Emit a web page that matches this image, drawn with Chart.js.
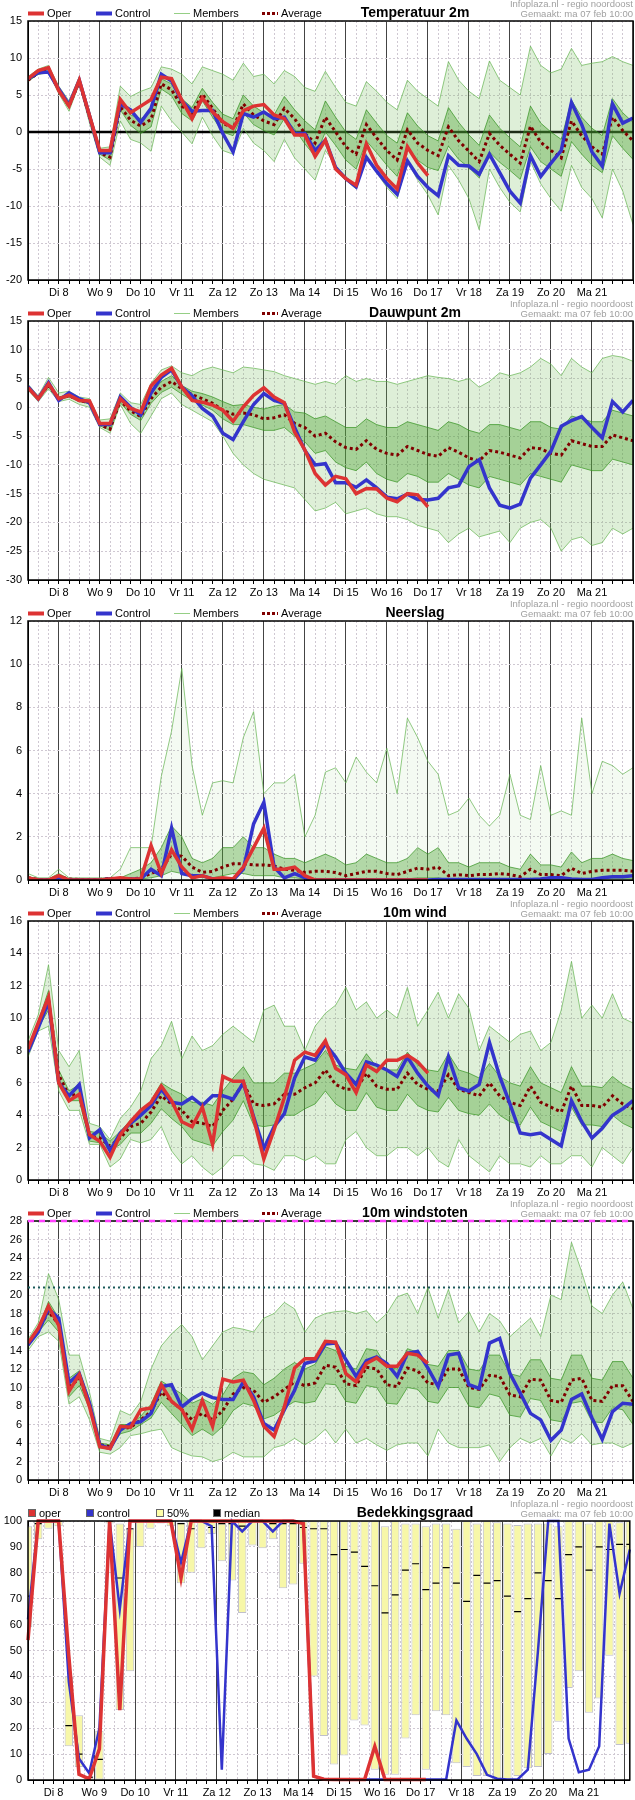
<!DOCTYPE html>
<html>
<head>
<meta charset="utf-8">
<title>Pluim noordoost</title>
<script src="https://cdn.jsdelivr.net/npm/chart.js"></script>
<style>
  body { margin: 0; background: #fff; }
  .panel { position: relative; width: 635px; height: 300px; }
  canvas { display: block; }
</style>
</head>
<body>
<div class="panel"><canvas id="temp" width="635" height="300"></canvas></div>
<div class="panel"><canvas id="dew" width="635" height="300"></canvas></div>
<div class="panel"><canvas id="rain" width="635" height="300"></canvas></div>
<div class="panel"><canvas id="wind" width="635" height="300"></canvas></div>
<div class="panel"><canvas id="gust" width="635" height="300"></canvas></div>
<div class="panel"><canvas id="cloud" width="635" height="300"></canvas></div>
<script>
// 6-hourly steps, index 0 = ma 7 feb 06:00
const days = ['Di 8', 'Wo 9', 'Do 10', 'Vr 11', 'Za 12', 'Zo 13', 'Ma 14', 'Di 15', 'Wo 16', 'Do 17', 'Vr 18', 'Za 19', 'Zo 20', 'Ma 21'];

// Temperatuur 2m
const tempOper = [7.2, 8.3, 8.7, 5.6, 3.5, 7.0, 2.2, -2.5, -2.5, 4.4, 2.6, 3.5, 4.4, 7.4, 7.2, 4.3, 1.8, 4.6, 2.7, 1.4,
  0.5, 2.9, 3.5, 3.7, 2.3, 1.8, -0.4, -0.4, -3.3, -1.1, -5.0, -6.3, -7.2, -1.6, -4.5, -6.3, -7.7, -2.0, -4.2, -5.9];
const tempControl = [7.2, 8.0, 8.1, 5.8, 3.7, 7.0, 2.2, -2.8, -2.8, 3.8, 3.0, 1.3, 3.2, 7.8, 6.9, 4.2, 2.8, 2.9, 2.9, -0.2,
  -2.7, 2.5, 2.0, 2.7, 1.8, 2.0, -0.2, -0.2, -2.5, -1.1, -4.8, -6.3, -7.4, -3.4, -5.3, -7.0, -8.4, -3.9, -6.0, -7.5,
  -8.6, -3.2, -4.5, -4.6, -5.7, -3.0, -5.5, -8.0, -9.6, -3.2, -6.0, -4.2, -2.5, 4.0, 1.0, -2.7, -4.6, 3.8, 1.2, 1.9];
const tempAvg = [7.0, 8.0, 8.3, 5.7, 3.5, 6.8, 2.0, -2.8, -3.4, 3.4, 1.6, 0.8, 1.7, 6.5, 5.7, 3.5, 2.5, 5.1, 3.2, 1.2,
  0.5, 3.8, 2.3, 1.5, 1.0, 3.2, 1.8, -0.2, -1.5, 2.0, 0.0, -2.0, -3.0, 1.0, -0.8, -2.5, -3.8, 0.3, -1.5, -2.5,
  -3.2, 0.7, -1.2, -2.6, -4.0, -0.2, -1.8, -3.0, -4.2, 0.8, -1.4, -2.5, -3.5, 1.5, -0.5, -2.0, -3.0, 2.0, 0.2, -1.2];
const tempHi = [7.5, 8.5, 9.0, 6.2, 4.2, 7.5, 2.8, -2.2, -2.0, 6.2, 4.8, 5.5, 6.0, 8.8, 8.5, 7.8, 6.5, 8.8, 8.3, 7.8,
  7.0, 9.3, 7.5, 7.8, 6.5, 8.3, 7.5, 6.0, 5.5, 8.2, 6.0, 4.0, 3.5, 6.8, 5.5, 4.0, 3.0, 7.0, 5.5, 4.5,
  3.5, 9.5, 7.0, 5.5, 4.5, 9.6, 7.0, 6.0, 5.0, 11.6, 9.0, 8.0, 8.5, 11.3, 9.0, 9.3, 9.5, 10.2, 9.5, 9.0];
const tempQ75 = [7.3, 8.2, 8.5, 5.9, 3.8, 7.1, 2.3, -2.6, -2.9, 4.3, 2.3, 1.8, 2.7, 7.2, 6.5, 4.5, 3.3, 5.9, 4.0, 2.4,
  1.8, 5.0, 3.5, 2.6, 2.3, 4.8, 3.0, 1.5, 0.3, 4.2, 2.0, 0.0, -1.0, 3.0, 1.2, -0.5, -1.5, 2.6, 0.8, -0.5,
  -1.2, 3.3, 1.3, -0.4, -1.8, 2.3, 0.5, -0.8, -2.0, 3.5, 1.2, 0.0, -1.0, 4.3, 2.0, 0.5, -0.5, 4.5, 2.6, 1.3];
const tempQ25 = [6.9, 7.8, 8.1, 5.4, 3.2, 6.5, 1.7, -3.0, -3.8, 3.0, 0.9, -0.2, 0.7, 5.8, 4.9, 2.5, 1.5, 4.2, 2.0, 0.0,
  -0.5, 2.6, 1.0, 0.2, -0.4, 1.8, 0.4, -1.6, -3.3, 0.0, -1.8, -3.8, -5.0, -1.2, -2.8, -4.5, -6.0, -2.0, -3.8, -4.8,
  -5.2, -1.9, -3.7, -4.8, -6.2, -2.7, -4.1, -5.2, -6.4, -2.0, -4.0, -5.0, -6.0, -1.3, -3.0, -4.5, -5.5, -0.5, -2.2, -3.7];
const tempLo = [6.8, 7.8, 8.0, 5.2, 2.8, 6.5, 1.2, -3.4, -4.5, 1.5, -1.0, -1.5, -2.6, 3.5, 1.5, 0.0, -1.6, 2.0, -0.5, -2.5,
  -3.0, 0.5, -1.5, -2.5, -4.0, -1.0, -3.5, -5.0, -6.5, -2.5, -4.5, -6.5, -7.7, -3.5, -5.5, -7.5, -9.0, -4.0, -6.5, -8.5,
  -11.2, -4.5, -6.5, -9.0, -13.2, -5.0, -7.5, -9.5, -10.8, -4.0, -7.0, -9.0, -10.7, -4.5, -7.5, -9.0, -11.6, -5.0, -8.0, -12.5];

// Dauwpunt 2m
const dewOper = [3.4, 1.5, 4.1, 1.5, 2.1, 1.2, 1.1, -2.8, -2.8, 1.5, -0.2, -0.8, 3.7, 5.6, 6.8, 3.5, 1.2, 0.9, 0.4, -0.5,
  -2.4, 0.1, 2.1, 3.4, 1.8, 0.8, -4.3, -7.4, -11.5, -13.5, -12.0, -12.4, -15.0, -14.1, -14.2, -15.8, -16.4, -15.0, -15.2, -17.3];
const dewControl = [3.6, 1.5, 4.3, 1.2, 2.5, 1.5, 0.8, -3.0, -3.0, 1.8, 0.0, -1.3, 2.5, 5.2, 6.5, 3.5, 2.0, -0.2, -1.5, -4.5,
  -5.6, -2.5, 0.5, 2.4, 1.2, 0.7, -3.5, -7.5, -10.0, -9.8, -13.1, -13.1, -13.9, -12.6, -14.0, -15.6, -15.9, -15.1, -16.0, -16.1,
  -15.8, -14.0, -13.6, -10.3, -9.1, -14.0, -17.0, -17.5, -16.8, -12.3, -10.0, -7.6, -3.3, -2.3, -1.6, -3.5, -5.3, 1.0, -0.8, 1.2];
const dewAvg = [3.3, 1.6, 3.8, 1.5, 2.0, 1.2, 0.8, -3.0, -3.8, 1.2, -0.6, -1.6, 1.5, 3.5, 4.5, 3.2, 2.2, 1.5, 0.7, -0.5,
  -1.2, -1.0, -1.3, -2.0, -1.8, -1.3, -2.8, -3.5, -5.0, -4.5, -6.0, -7.0, -7.3, -5.8, -7.3, -8.0, -8.3, -6.8, -7.5, -8.2,
  -8.5, -7.0, -7.8, -8.8, -9.3, -7.5, -7.8, -8.3, -8.8, -7.0, -7.2, -8.0, -8.3, -5.8, -6.3, -6.8, -6.8, -4.8, -5.3, -5.8];
const dewHi = [4.0, 2.0, 5.2, 2.5, 2.8, 1.8, 1.5, -2.2, -2.0, 2.5, 0.8, 0.5, 4.2, 6.5, 7.2, 6.0, 5.5, 6.5, 7.0, 6.5,
  6.0, 7.0, 6.8, 6.5, 6.2, 5.5, 5.0, 4.5, 4.0, 4.5, 4.0, 5.5, 4.5, 5.0, 4.5, 4.5, 4.0, 4.5, 5.0, 5.5,
  5.2, 5.0, 4.5, 5.0, 3.5, 4.5, 6.0, 5.5, 6.0, 7.0, 8.5, 7.5, 5.5, 8.5, 7.0, 6.0, 8.5, 9.0, 8.7, 8.0];
const dewQ75 = [3.5, 1.7, 4.2, 1.8, 2.2, 1.4, 1.0, -2.7, -3.3, 1.7, -0.1, -1.0, 2.3, 4.5, 5.5, 3.8, 2.8, 2.4, 1.8, 1.0,
  0.3, 0.5, 0.0, -0.3, 0.2, 0.5, -0.8, -1.0, -2.0, -1.5, -2.5, -3.5, -3.5, -2.0, -3.0, -3.5, -3.5, -2.5, -3.0, -3.5,
  -4.0, -2.5, -3.0, -4.0, -4.5, -3.0, -3.0, -3.5, -4.0, -2.5, -2.5, -3.5, -3.8, -1.5, -2.0, -2.5, -2.5, -0.5, -1.0, -1.5];
const dewQ25 = [3.1, 1.4, 3.5, 1.3, 1.8, 1.0, 0.6, -3.2, -4.0, 0.8, -1.2, -2.3, 0.7, 2.6, 3.5, 2.3, 1.2, 0.4, -0.5, -2.0,
  -3.0, -3.0, -3.5, -4.0, -4.0, -3.5, -5.0, -6.0, -8.0, -7.5, -9.5, -10.5, -11.0, -9.5, -11.5, -12.5, -13.0, -11.5, -12.0, -13.0,
  -13.0, -11.5, -12.5, -13.5, -14.0, -12.0, -12.5, -13.0, -13.5, -11.5, -12.0, -12.5, -13.0, -10.0, -10.5, -11.0, -11.0, -9.0, -9.5, -10.0];
const dewLo = [3.0, 1.0, 3.2, 1.0, 1.4, 0.5, 0.0, -3.5, -4.5, 0.5, -2.8, -4.5, -1.5, 1.5, 2.5, 0.5, -0.5, -1.5, -2.5, -5.0,
  -8.0, -10.0, -11.5, -12.5, -13.0, -13.5, -14.0, -16.0, -18.0, -17.5, -16.5, -18.5, -18.0, -17.5, -18.5, -19.0, -19.0, -19.5, -20.5, -21.0,
  -21.5, -23.5, -22.0, -21.0, -22.5, -22.0, -21.5, -23.5, -21.0, -20.0, -19.5, -21.0, -25.0, -23.0, -22.5, -24.0, -23.5, -21.0, -22.0, -21.0];

// Neerslag
const rainOper = [0.1, 0.0, 0.0, 0.2, 0.0, 0.0, 0.0, 0.0, 0.05, 0.1, 0.05, 0.05, 1.6, 0.3, 1.4, 0.6, 0.1, 0.2, 0.05, 0.1,
  0.05, 0.6, 1.5, 2.4, 0.5, 0.5, 0.6, 0.2, 0.0, 0.0, 0.0, 0.0, 0.0, 0.0, 0.0, 0.0, 0.0, 0.0, 0.0, 0.0];
const rainControl = [0.05, 0.0, 0.0, 0.1, 0.0, 0.0, 0.0, 0.0, 0.05, 0.05, 0.05, 0.05, 0.5, 0.2, 2.4, 0.3, 0.2, 0.2, 0.05, 0.0,
  0.0, 0.5, 2.6, 3.6, 0.6, 0.1, 0.3, 0.1, 0.0, 0.0, 0.0, 0.0, 0.0, 0.0, 0.0, 0.0, 0.0, 0.0, 0.0, 0.0,
  0.02, 0.02, 0.02, 0.02, 0.02, 0.02, 0.02, 0.02, 0.02, 0.02, 0.05, 0.1, 0.1, 0.05, 0.02, 0.02, 0.1, 0.15, 0.15, 0.2];
const rainAvg = [0.1, 0.02, 0.02, 0.15, 0.05, 0.02, 0.02, 0.02, 0.08, 0.05, 0.05, 0.1, 0.3, 0.5, 1.2, 1.1, 0.6, 0.35, 0.4, 0.6,
  0.75, 0.75, 0.7, 0.7, 0.65, 0.5, 0.45, 0.35, 0.4, 0.4, 0.35, 0.2, 0.3, 0.4, 0.4, 0.3, 0.25, 0.4, 0.55, 0.5,
  0.6, 0.2, 0.25, 0.2, 0.25, 0.25, 0.3, 0.25, 0.15, 0.5, 0.25, 0.25, 0.2, 0.55, 0.3, 0.4, 0.45, 0.45, 0.45, 0.4];
const rainHi = [0.3, 0.1, 0.1, 0.5, 0.1, 0.1, 0.1, 0.1, 0.1, 0.5, 1.5, 1.5, 1.5, 4.8, 6.9, 9.8, 5.3, 3.0, 4.5, 4.6,
  4.5, 6.6, 7.8, 4.0, 4.5, 4.5, 4.9, 2.0, 3.0, 5.0, 5.2, 4.5, 5.7, 5.0, 4.5, 6.1, 4.0, 7.5, 6.6, 5.5,
  4.9, 3.0, 3.2, 3.8, 3.0, 2.5, 3.0, 4.9, 3.0, 2.8, 5.3, 3.0, 3.2, 3.0, 7.5, 4.0, 5.5, 5.3, 4.9, 5.2];
const rainQ75 = [0.15, 0.05, 0.05, 0.3, 0.05, 0.05, 0.05, 0.05, 0.1, 0.1, 0.3, 0.5, 0.8, 1.5, 2.5, 2.0, 1.0, 0.8, 1.0, 1.5,
  1.5, 2.0, 1.5, 1.5, 1.2, 1.0, 1.0, 0.8, 1.0, 1.2, 1.0, 0.7, 0.8, 1.2, 1.0, 0.8, 0.8, 1.0, 1.5, 1.2,
  1.5, 0.8, 0.8, 0.6, 0.8, 0.8, 0.8, 0.6, 0.5, 1.2, 0.7, 0.7, 0.6, 1.3, 0.8, 1.0, 1.0, 1.2, 1.0, 0.9];
const rainQ25 = [0.05, 0, 0, 0.1, 0, 0, 0, 0, 0, 0, 0, 0.05, 0.1, 0.2, 0.4, 0.3, 0.15, 0.1, 0.1, 0.2,
  0.3, 0.3, 0.2, 0.2, 0.2, 0.1, 0.1, 0.05, 0.05, 0.05, 0.05, 0.02, 0.02, 0.05, 0.05, 0.02, 0.02, 0.05, 0.1, 0.1,
  0.1, 0.02, 0.02, 0.02, 0.02, 0.02, 0.05, 0.02, 0.02, 0.05, 0.02, 0.02, 0.02, 0.05, 0.02, 0.05, 0.05, 0.05, 0.05, 0.05];

// 10m wind
const windOper = [8.1, 9.7, 11.3, 6.0, 4.9, 5.3, 2.8, 2.4, 1.4, 2.8, 3.6, 4.3, 4.8, 5.8, 4.9, 3.6, 3.3, 4.5, 2.2, 6.4,
  6.1, 6.1, 3.8, 1.3, 3.1, 5.1, 7.4, 7.9, 7.7, 8.6, 6.9, 6.5, 5.4, 7.1, 6.7, 7.4, 7.4, 7.7, 7.3, 6.6];
const windControl = [7.9, 9.4, 11.0, 6.0, 5.2, 5.9, 2.6, 3.1, 1.8, 2.9, 3.5, 4.0, 4.6, 5.6, 4.8, 4.7, 5.1, 4.6, 5.2, 5.2,
  5.0, 6.0, 3.9, 1.95, 3.3, 4.1, 6.3, 7.6, 7.4, 8.4, 7.6, 6.6, 5.9, 7.3, 7.1, 6.8, 6.4, 7.6, 6.6, 5.8,
  5.2, 7.6, 5.7, 5.5, 5.9, 8.5, 6.4, 4.7, 2.9, 2.8, 2.9, 2.5, 2.1, 4.9, 3.6, 2.6, 3.2, 4.0, 4.4, 4.9];
const windAvg = [8.0, 9.6, 11.1, 6.5, 5.2, 5.3, 2.7, 2.6, 2.1, 2.6, 3.3, 3.5, 4.2, 5.2, 4.7, 4.3, 3.6, 3.5, 3.3, 4.3,
  5.0, 6.0, 4.7, 4.6, 4.7, 5.3, 5.3, 5.7, 6.0, 6.8, 5.9, 5.6, 5.6, 6.6, 5.8, 5.6, 5.6, 6.6, 5.9, 5.6,
  5.5, 6.5, 5.6, 5.4, 5.2, 6.0, 5.2, 4.8, 4.6, 5.8, 4.8, 4.5, 4.2, 5.8, 4.6, 4.6, 4.5, 5.2, 4.7, 4.4];
const windHi = [8.6, 10.2, 13.3, 8.0, 7.0, 8.0, 3.5, 3.3, 2.5, 3.8, 4.5, 5.5, 7.5, 8.3, 9.8, 7.5, 8.9, 8.0, 8.3, 9.0,
  9.5, 9.0, 8.5, 10.5, 10.8, 9.5, 9.5, 8.0, 9.5, 10.3, 10.8, 11.9, 10.5, 11.0, 10.0, 10.5, 10.0, 11.9, 9.5, 10.5,
  11.6, 10.0, 11.5, 10.6, 8.0, 9.5, 9.0, 8.5, 9.0, 9.2, 8.0, 8.5, 10.5, 13.5, 10.0, 10.8, 10.0, 11.5, 10.0, 9.7];
const windQ75 = [8.2, 9.8, 11.7, 6.8, 5.5, 5.9, 3.0, 2.9, 2.4, 3.0, 3.7, 4.1, 4.9, 6.0, 5.6, 5.3, 4.8, 4.8, 4.6, 5.5,
  6.3, 7.0, 6.0, 6.0, 6.0, 6.6, 6.6, 6.9, 7.2, 8.0, 7.1, 6.9, 6.8, 7.8, 7.0, 6.8, 6.8, 7.9, 7.1, 6.8,
  6.7, 7.8, 6.8, 6.6, 6.3, 7.2, 6.4, 6.0, 5.8, 7.0, 6.0, 5.7, 5.4, 7.0, 5.8, 5.8, 5.7, 6.4, 5.9, 5.6];
const windQ25 = [7.8, 9.4, 10.5, 6.2, 4.9, 4.9, 2.4, 2.3, 1.8, 2.2, 2.9, 2.9, 3.5, 4.4, 3.8, 3.3, 2.5, 2.3, 2.1, 3.0,
  3.7, 4.9, 3.4, 3.3, 3.4, 4.0, 4.0, 4.4, 4.7, 5.5, 4.7, 4.3, 4.3, 5.4, 4.5, 4.3, 4.3, 5.3, 4.6, 4.3,
  4.2, 5.1, 4.3, 4.1, 4.0, 4.7, 4.0, 3.6, 3.4, 4.5, 3.6, 3.3, 3.0, 4.5, 3.4, 3.4, 3.3, 4.0, 3.5, 3.2];
const windLo = [7.6, 9.2, 9.5, 5.5, 4.3, 4.3, 2.2, 2.2, 0.8, 1.3, 2.5, 2.3, 2.5, 3.3, 1.8, 1.0, 1.5, 0.8, 0.3, 0.8,
  1.5, 1.5, 1.0, 0.9, 0.6, 1.5, 1.5, 1.2, 1.5, 1.0, 1.0, 2.5, 3.0, 2.0, 1.5, 1.5, 2.0, 2.0, 1.5, 2.0,
  1.2, 0.8, 2.5, 1.5, 1.0, 0.5, 1.5, 1.0, 1.0, 0.8, 1.5, 1.0, 1.0, 1.5, 1.5, 0.8, 2.0, 1.5, 1.0, 2.0];

// 10m windstoten
const gustOper = [14.8, 16.4, 18.8, 16.7, 9.6, 11.4, 7.9, 3.6, 3.4, 5.8, 5.7, 7.6, 7.8, 10.3, 8.5, 7.6, 5.5, 8.6, 5.8, 10.9,
  10.6, 10.8, 8.6, 5.8, 4.7, 7.9, 12.1, 13.1, 13.1, 15.0, 14.9, 11.5, 10.6, 12.6, 13.2, 12.3, 12.3, 13.7, 13.5, 12.6];
const gustControl = [14.6, 16.0, 18.5, 17.5, 10.5, 11.5, 8.3, 3.8, 3.4, 5.4, 6.1, 6.3, 7.2, 10.1, 10.3, 7.9, 8.8, 9.4, 8.9, 8.7,
  8.7, 10.6, 9.0, 6.1, 5.4, 7.6, 9.7, 12.6, 12.9, 14.7, 14.8, 13.0, 11.2, 12.9, 13.3, 12.6, 11.2, 13.7, 13.9, 12.1,
  10.1, 13.5, 13.7, 10.3, 9.9, 14.8, 15.3, 11.5, 9.4, 7.2, 6.5, 4.3, 5.4, 8.7, 9.3, 6.7, 4.4, 7.4, 8.3, 8.2];
const gustAvg = [14.6, 16.2, 18.2, 16.8, 10.0, 11.0, 8.2, 3.8, 3.6, 5.5, 5.7, 6.5, 7.4, 9.5, 8.5, 7.6, 6.5, 7.2, 6.5, 7.5,
  9.3, 10.0, 9.7, 8.4, 9.0, 9.8, 10.6, 10.2, 10.5, 12.4, 12.2, 10.4, 10.2, 12.2, 12.0, 10.3, 10.1, 12.1, 11.8, 10.5,
  10.3, 12.0, 12.0, 10.0, 9.8, 11.3, 11.2, 9.2, 9.0, 10.9, 10.8, 8.6, 8.4, 10.8, 11.0, 8.6, 8.5, 10.2, 10.2, 8.5];
const gustHi = [15.2, 17.0, 22.3, 19.5, 13.5, 13.5, 9.5, 4.5, 4.2, 7.5, 7.0, 8.5, 12.0, 14.5, 15.8, 16.8, 15.5, 13.0, 14.5, 16.0,
  16.5, 16.3, 16.0, 17.5, 18.0, 19.2, 18.5, 16.0, 17.5, 18.0, 18.2, 18.3, 18.0, 18.3, 17.0, 18.0, 19.8, 20.2, 18.0, 20.8,
  17.5, 20.6, 17.0, 18.2, 16.0, 18.0, 17.2, 15.5, 16.5, 17.5, 15.5, 20.0, 19.5, 25.7, 22.5, 18.8, 18.0, 20.0, 21.4, 18.5];
const gustQ75 = [14.8, 16.4, 19.3, 17.5, 11.0, 11.8, 8.7, 4.0, 3.8, 6.0, 6.0, 6.9, 8.2, 10.7, 10.0, 9.3, 8.3, 8.8, 8.2, 9.2,
  11.0, 11.7, 11.5, 10.3, 11.0, 12.0, 12.7, 12.0, 12.5, 14.4, 14.0, 12.3, 12.0, 14.2, 14.0, 12.2, 12.0, 14.2, 13.8, 12.5,
  12.3, 14.0, 14.0, 12.0, 11.8, 13.5, 13.5, 11.5, 11.2, 13.0, 13.0, 11.0, 10.8, 13.5, 13.5, 11.0, 10.8, 12.8, 12.8, 11.0];
const gustQ25 = [14.4, 16.0, 17.3, 16.0, 9.0, 10.2, 7.7, 3.5, 3.3, 5.0, 5.3, 6.0, 6.7, 8.4, 7.2, 6.0, 4.8, 5.5, 4.8, 5.8,
  7.5, 8.3, 8.0, 6.6, 7.0, 7.8, 8.5, 8.3, 8.5, 10.4, 10.3, 8.5, 8.3, 10.2, 10.0, 8.3, 8.2, 10.0, 9.8, 8.5,
  8.3, 10.0, 10.0, 8.0, 7.8, 9.3, 9.0, 7.0, 6.8, 8.8, 8.6, 6.5, 6.3, 8.3, 8.5, 6.3, 6.2, 7.8, 7.6, 6.0];
const gustLo = [14.0, 15.5, 16.0, 15.0, 8.2, 9.0, 6.5, 3.0, 2.8, 3.5, 4.8, 5.0, 5.3, 5.5, 3.5, 3.0, 2.6, 2.5, 2.0, 2.3,
  3.0, 2.5, 2.5, 2.5, 3.5, 3.8, 4.5, 3.8, 4.5, 5.5, 4.0, 5.5, 4.0, 4.5, 3.8, 3.2, 3.8, 4.0, 4.0, 2.6,
  5.5, 4.0, 3.5, 3.5, 3.5, 3.8, 2.0, 3.5, 4.5, 4.0, 4.5, 2.6, 4.5, 4.0, 5.0, 3.8, 4.0, 4.0, 3.5, 4.0];

// Bedekkingsgraad (%)
const cloudOper = [54, 100, 100, 100, 48, 2.2, 0.4, 12, 100, 27, 100, 100, 100, 100, 100, 78, 100, 100, 100, 100,
  100, 100, 100, 100, 100, 100, 100, 99, 1.5, 0.3, 0.2, 0.2, 0.2, 0.2, 13, 0.2, 0.2, 0.2, 0.2, 0.2];
const cloudControl = [62, 100, 100, 100, 38, 8.3, 2.6, 20, 100, 66, 100, 100, 100, 100, 100, 84, 100, 100, 98, 4,
  100, 96, 100, 100, 96, 100, 100, 99, 1.5, 0.3, 0.2, 0.2, 0.2, 0.2, 0.2, 0.2, 0.2, 0.2, 0.2, 0.2,
  0.2, 0.3, 23, 16, 10, 2, 0.5, 0.2, 0.2, 4, 50, 100, 100, 16, 3, 4, 13, 99, 72, 89];
const cloudLo = [59, 93, 97, 98, 13, 5, 0, 0, 99, 27, 42, 90, 97, 99, 98, 76, 80, 89.5, 95, 84.5,
  77, 64.5, 90.5, 89.5, 93, 74, 75.5, 83.5, 40, 17, 6, 9.5, 23, 21, 4, 2, 2, 16, 25, 4,
  26.5, 25, 6.5, 5, 1.5, 1.5, 0.5, 0, 1.5, 4.5, 5, 10, 22.5, 35.5, 42, 26, 31.5, 48, 13.5, 14];
const cloudHi = [98, 100, 100, 100, 40, 25, 1.5, 19, 100, 99, 97, 100, 100, 100, 100, 99.4, 100, 100, 100, 99,
  100, 100, 100, 100, 100, 100, 100, 100, 100, 100, 100, 100, 100, 100, 100, 98, 100, 99, 99, 98,
  99, 99, 97, 100, 99, 100, 99.5, 99, 98.5, 99, 99, 99, 98, 100, 100, 99, 100, 100, 99.5, 100];
const cloudMedian = [71, 99, 100, 100, 21, 10, 1, 8, 100, 78, 97, 100, 100, 100, 100, 99, 97, 100, 97.5, 99,
  99, 98, 100, 100, 99, 99, 99, 97.5, 97, 97, 87, 89, 88, 82.5, 75, 64.5, 71.5, 81, 83.5, 73.5,
  76, 82, 76, 69, 79, 76, 77, 71, 65, 70, 80, 77, 70, 87, 90, 81, 90, 89, 91, 91];

const FONT = "'Liberation Sans', Arial, sans-serif";
const RED = '#dd3333';
const BLUE = '#3434cc';
const AVG = '#800000';
const LAST = 59;

Chart.defaults.font.family = FONT;
Chart.defaults.font.size = 11;
Chart.defaults.color = '#000';

function pts(arr) {
  return arr.map((v, i) => ({ x: i, y: v }));
}

// legend row, title and source line above each plot
const headerPlugin = {
  id: 'header',
  afterDraw(chart, args, o) {
    const ctx = chart.ctx;
    ctx.save();
    ctx.textBaseline = 'middle';
    ctx.font = '11px ' + FONT;
    o.items.forEach(it => {
      if (it.box) {
        ctx.fillStyle = it.color;
        ctx.fillRect(it.x, 9, 8, 8);
        ctx.strokeStyle = '#666';
        ctx.lineWidth = 1;
        ctx.strokeRect(it.x + 0.5, 9.5, 7, 7);
      } else {
        ctx.strokeStyle = it.color;
        ctx.lineWidth = it.w;
        ctx.setLineDash(it.dash || []);
        ctx.beginPath();
        ctx.moveTo(it.x, 13.5);
        ctx.lineTo(it.x + 16, 13.5);
        ctx.stroke();
        ctx.setLineDash([]);
      }
      ctx.fillStyle = '#000';
      ctx.textAlign = 'left';
      ctx.fillText(it.label, it.x + (it.box ? 11 : 19), 13.5);
    });
    ctx.font = 'bold 14px ' + FONT;
    ctx.textAlign = 'center';
    ctx.fillText(o.title, 415, 13);
    ctx.font = '9.5px ' + FONT;
    ctx.fillStyle = '#a0a0a0';
    ctx.textAlign = 'right';
    ctx.fillText('Infoplaza.nl - regio noordoost', 633, 4.5);
    ctx.fillText('Gemaakt: ma 07 feb 10:00', 633, 14.5);
    ctx.restore();
  }
};

// horizontal reference lines + black frame
function refLine(chart, l) {
  const { ctx, chartArea: a, scales } = chart;
  const y = scales.y.getPixelForValue(l.value);
  ctx.strokeStyle = l.color;
  ctx.lineWidth = l.width;
  ctx.setLineDash(l.dash || []);
  ctx.beginPath();
  ctx.moveTo(a.left, y);
  ctx.lineTo(a.right, y);
  ctx.stroke();
}

const framePlugin = {
  id: 'frame',
  beforeDatasetsDraw(chart, args, o) {
    chart.ctx.save();
    (o.lines || []).filter(l => !l.top).forEach(l => refLine(chart, l));
    chart.ctx.restore();
  },
  afterDatasetsDraw(chart, args, o) {
    const { ctx, chartArea: a } = chart;
    ctx.save();
    ctx.strokeStyle = '#000';
    ctx.lineWidth = 1.5;
    ctx.strokeRect(a.left, a.top, a.right - a.left, a.bottom - a.top);
    (o.lines || []).filter(l => l.top).forEach(l => refLine(chart, l));
    ctx.restore();
  }
};

function xAxis(shift) {
  const first = 3 - shift;
  const isDay = v => Math.abs(((v - first) % 4 + 4) % 4) < 0.01;
  return {
    type: 'linear', min: 0, max: LAST, offset: false,
    afterBuildTicks: s => {
      s.ticks = [];
      for (let v = shift; v <= LAST; v++) s.ticks.push({ value: v });
    },
    afterFit: s => { s.height = 20; },
    ticks: {
      autoSkip: false, maxRotation: 0, padding: 2,
      callback: v => {
        const j = Math.round((v - first) / 4);
        return isDay(v) && j >= 0 && j < days.length ? days[j] : '';
      }
    },
    grid: {
      offset: false,
      color: c => (c.tick && isDay(c.tick.value)) ? '#444' : '#cfc8d2',
      tickColor: '#000', tickLength: 4
    },
    border: {
      color: '#000',
      dash: c => (c.tick && !isDay(c.tick.value)) ? [2, 2] : []
    }
  };
}

function yAxis(min, max, step) {
  return {
    min: min, max: max,
    afterFit: s => { s.width = 28; },
    ticks: { stepSize: step, padding: 6, maxTicksLimit: 20, autoSkip: false },
    grid: { color: '#cfc8d2', drawTicks: false },
    border: { color: '#000', dash: c => c.tick ? [2, 2] : [] }
  };
}

const lineLegend = [
  { label: 'Oper', color: RED, w: 4, x: 28 },
  { label: 'Control', color: BLUE, w: 4, x: 96 },
  { label: 'Members', color: '#95cf85', w: 1, x: 174 },
  { label: 'Average', color: AVG, w: 3, dash: [3, 2], x: 262 }
];

function ensemble(id, title, s, yMin, yMax, step, lines, outerAlpha) {
  const outer = 'rgba(115,190,90,' + (outerAlpha || 0.24) + ')';
  const datasets = [
    { data: pts(s.oper), borderColor: RED, borderWidth: 3.5 },
    { data: pts(s.control), borderColor: BLUE, borderWidth: 3.5 },
    { data: pts(s.avg), borderColor: AVG, borderWidth: 3, borderDash: [3, 3] },
    { data: pts(s.q75), borderColor: 'rgba(50,145,30,0.7)', borderWidth: 1,
      fill: '+1', backgroundColor: 'rgba(70,160,45,0.38)' },
    { data: pts(s.q25), borderColor: 'rgba(50,145,30,0.7)', borderWidth: 1 },
    { data: pts(s.hi), borderColor: 'rgba(100,180,80,0.7)', borderWidth: 1,
      fill: s.lo ? '+1' : 'origin', backgroundColor: outer }
  ];
  if (s.lo) {
    datasets.push({ data: pts(s.lo), borderColor: 'rgba(100,180,80,0.7)', borderWidth: 1 });
  }
  new Chart(document.getElementById(id), {
    type: 'line',
    data: { datasets: datasets },
    plugins: [headerPlugin, framePlugin],
    options: {
      responsive: false,
      animation: false,
      layout: { padding: { top: 21, right: 1, left: 0, bottom: 0 } },
      elements: { point: { radius: 0 }, line: { tension: 0 } },
      plugins: {
        legend: { display: false },
        tooltip: { enabled: false },
        header: { title: title, items: lineLegend },
        frame: { lines: lines || [] }
      },
      scales: { x: xAxis(0), y: yAxis(yMin, yMax, step) }
    }
  });
}

ensemble('temp', 'Temperatuur 2m',
  { oper: tempOper, control: tempControl, avg: tempAvg, hi: tempHi, q75: tempQ75, q25: tempQ25, lo: tempLo },
  -20, 15, 5, [{ value: 0, color: '#000', width: 2.5 }]);
ensemble('dew', 'Dauwpunt 2m',
  { oper: dewOper, control: dewControl, avg: dewAvg, hi: dewHi, q75: dewQ75, q25: dewQ25, lo: dewLo },
  -30, 15, 5);
ensemble('rain', 'Neerslag',
  { oper: rainOper, control: rainControl, avg: rainAvg, hi: rainHi, q75: rainQ75, q25: rainQ25, lo: null },
  0, 12, 2, [], 0.08);
ensemble('wind', '10m wind',
  { oper: windOper, control: windControl, avg: windAvg, hi: windHi, q75: windQ75, q25: windQ25, lo: windLo },
  0, 16, 2);
ensemble('gust', '10m windstoten',
  { oper: gustOper, control: gustControl, avg: gustAvg, hi: gustHi, q75: gustQ75, q25: gustQ25, lo: gustLo },
  0, 28, 2,
  [{ value: 28, color: '#ff40ff', width: 2.5, dash: [6, 5], top: true },
   { value: 20.8, color: '#1a5a5a', width: 2, dash: [2, 3], top: true }]);

// cloud cover: 50% range as floating bars, median as short dashes
new Chart(document.getElementById('cloud'), {
  type: 'line',
  data: {
    datasets: [
      { data: pts(cloudOper), borderColor: RED, borderWidth: 3.5, clip: 4 },
      { data: pts(cloudControl), borderColor: BLUE, borderWidth: 2.5, clip: 4 },
      { data: pts(cloudMedian), showLine: false, pointStyle: 'line', pointRadius: 3.5,
        pointBorderColor: '#000', pointBorderWidth: 1.2 },
      { type: 'bar', data: cloudLo.map((v, i) => ({ x: i, y: [v, cloudHi[i]] })),
        backgroundColor: '#f7f7a8', borderColor: '#c0c0cc', borderWidth: 1, borderSkipped: false,
        barPercentage: 1, categoryPercentage: 0.82 }
    ]
  },
  plugins: [headerPlugin, framePlugin],
  options: {
    responsive: false,
    animation: false,
    layout: { padding: { top: 21, right: 1, left: 0, bottom: 0 } },
    elements: { point: { radius: 0 }, line: { tension: 0 } },
    plugins: {
      legend: { display: false },
      tooltip: { enabled: false },
      header: {
        title: 'Bedekkingsgraad',
        items: [
          { label: 'oper', color: RED, box: true, x: 28 },
          { label: 'control', color: BLUE, box: true, x: 86 },
          { label: '50%', color: '#ffffa8', box: true, x: 156 },
          { label: 'median', color: '#000', box: true, x: 213 }
        ]
      },
      frame: { lines: [] }
    },
    scales: { x: xAxis(0.5), y: yAxis(0, 100, 10) }
  }
});
</script>
</body>
</html>
